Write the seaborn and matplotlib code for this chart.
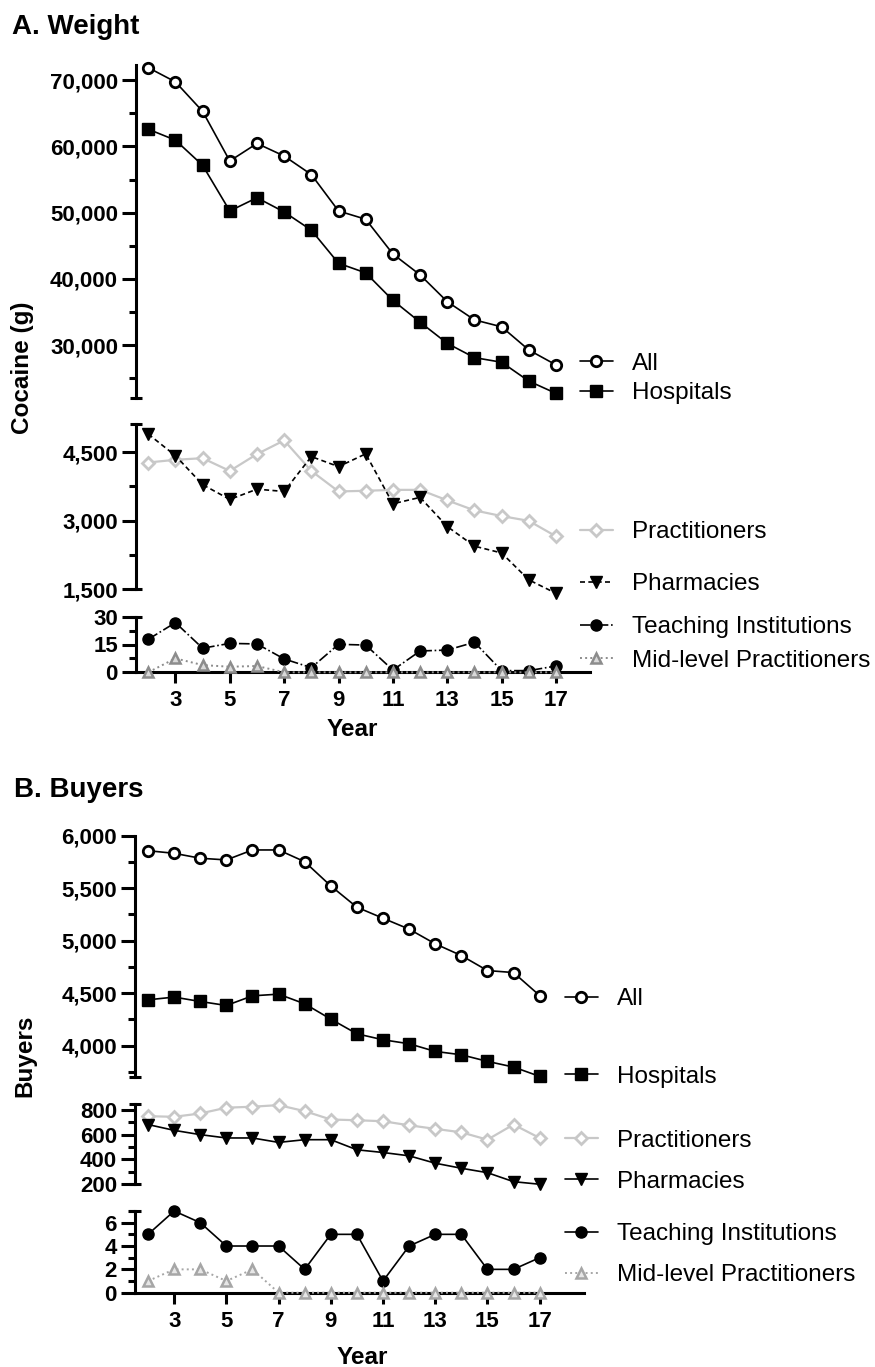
import matplotlib
matplotlib.use("Agg")
import matplotlib.pyplot as plt
import seaborn as sns
from matplotlib.ticker import MultipleLocator, FuncFormatter

# %%
# values
years = list(range(2, 18))
year_ticks = list(range(3, 18, 2))

# A. weight of cocaine (g)
w_all = [71900, 69750, 65300, 57800, 60450, 58550, 55750, 50250,
         49000, 43750, 40600, 36550, 33800, 32750, 29250, 27000]
w_hospitals = [62600, 60950, 57150, 50250, 52250, 50100, 47350, 42350,
               40900, 36750, 33450, 30250, 28100, 27400, 24550, 22700]
w_practitioners = [4275, 4335, 4370, 4090, 4460, 4760, 4090, 3640,
                   3655, 3675, 3675, 3445, 3225, 3100, 2995, 2655]
w_pharmacies = [4900, 4425, 3790, 3465, 3690, 3640, 4405, 4185,
                4465, 3370, 3510, 2870, 2440, 2290, 1700, 1405]
w_teaching = [17.8, 26.8, 13.0, 15.6, 15.3, 7.2, 2.5, 15.1,
              14.7, 1.2, 11.5, 12.0, 16.2, 0.9, 0.9, 3.4]
w_midlevel = [0, 7.5, 3.9, 3.0, 3.4, 0, 0, 0, 0, 0, 0, 0, 0, 0, 0, 0]

# B. number of buyers
b_all = [5858, 5833, 5786, 5770, 5865, 5865, 5753, 5522,
         5319, 5214, 5110, 4970, 4858, 4715, 4696, 4477]
b_hospitals = [4436, 4462, 4420, 4382, 4474, 4490, 4398, 4252,
               4112, 4055, 4017, 3944, 3912, 3849, 3795, 3706]
b_practitioners = [751, 746, 773, 820, 828, 841, 792, 724,
                   718, 710, 677, 648, 620, 560, 683, 574]
b_pharmacies = [683, 636, 601, 574, 574, 538, 560, 560,
                478, 456, 429, 369, 328, 292, 219, 198]
b_teaching = [5, 7, 6, 4, 4, 4, 2, 5, 5, 1, 4, 5, 5, 2, 2, 3]
b_midlevel = [1, 2, 2, 1, 2, 0, 0, 0, 0, 0, 0, 0, 0, 0, 0, 0]

# %%
sns.set_style("ticks")
plt.rcParams["font.family"] = ["Liberation Sans", "DejaVu Sans"]
plt.rcParams["font.weight"] = "bold"
for key in ["text.color", "axes.labelcolor", "xtick.color", "ytick.color", "axes.edgecolor"]:
    plt.rcParams[key] = "black"

W, H = 875, 1367
fig = plt.figure(figsize=(W / 100, H / 100), dpi=100)


def add_ax(left, right, top, bottom):
    return fig.add_axes([left / W, 1 - bottom / H, (right - left) / W, (bottom - top) / H])


def draw(ax, y, label, **style):
    sns.lineplot(x=years, y=y, ax=ax, label=label, clip_on=False, zorder=3, **style)


def cap(ax, yval, width_px):
    # short horizontal end bar on a broken y axis
    half = 6 / width_px
    ax.plot([-half, half], [yval, yval], transform=ax.get_yaxis_transform(),
            color="black", lw=2.2, clip_on=False, solid_capstyle="butt")


def style_ax(ax, ylim, major, minor, xlim, bottom=False, comma=True):
    ax.set_xlim(*xlim)
    ax.set_ylim(*ylim)
    ax.yaxis.set_major_locator(MultipleLocator(major))
    ax.yaxis.set_minor_locator(MultipleLocator(minor))
    if comma:
        ax.yaxis.set_major_formatter(FuncFormatter(lambda v, p: f"{v:,.0f}"))
    sns.despine(ax=ax, bottom=not bottom)
    for s in ax.spines.values():
        s.set_linewidth(2.2)
        s.set_color("black")
    ax.tick_params(axis="y", which="major", length=10, width=2.2, labelsize=16, pad=3,
                   color="black", labelcolor="black")
    ax.tick_params(axis="y", which="minor", length=5, width=2.2, color="black")
    if bottom:
        ax.set_xticks(year_ticks)
        ax.tick_params(axis="x", which="major", length=8, width=2.2, labelsize=16, pad=5,
                       color="black", labelcolor="black")
    else:
        ax.set_xticks([])
    ax.set_xlabel("")
    ax.set_ylabel("")
    ax.set_facecolor("none")


def legend(ax, x, y, spacing):
    ax.legend(loc="center left", bbox_to_anchor=(x / W, 1 - y / H),
              bbox_transform=fig.transFigure, frameon=False,
              prop={"size": 17.5, "weight": "normal"},
              handlelength=1.35, handletextpad=0.8, labelspacing=spacing,
              borderpad=0, borderaxespad=0, labelcolor="black")


all_style = dict(color="black", linewidth=1.2, marker="o", markersize=7.5,
                 markerfacecolor="white", markeredgecolor="black", markeredgewidth=2)
hosp_style = dict(color="black", linewidth=1.2, marker="s", markersize=8,
                  markerfacecolor="black", markeredgecolor="black", markeredgewidth=1)
prac_style = dict(color="#c8c8c8", linewidth=1.6, marker="D", markersize=6,
                  markerfacecolor="white", markeredgecolor="#c8c8c8", markeredgewidth=2)
teach_marker = dict(color="black", linewidth=1.2, marker="o", markersize=8,
                    markerfacecolor="black", markeredgecolor="black", markeredgewidth=1)
pharm_marker = dict(color="black", linewidth=1.2, marker="v", markersize=8,
                    markerfacecolor="black", markeredgecolor="black", markeredgewidth=1)

# %%
# A. Weight
xa = (1.55, 18.25)
a1 = add_ax(136, 590, 65, 398)
draw(a1, w_all, "All", **all_style)
draw(a1, w_hospitals, "Hospitals", **hosp_style)
style_ax(a1, (22000, 72300), 10000, 5000, xa)
cap(a1, 22000, 454)
legend(a1, 580, 378.5, 0.30)

a2 = add_ax(136, 590, 424, 589)
draw(a2, w_practitioners, "Practitioners", **prac_style)
draw(a2, w_pharmacies, "Pharmacies", linestyle=(0, (3, 2)), **pharm_marker)
style_ax(a2, (1500, 5120), 1500, 750, xa)
cap(a2, 5120, 454)
cap(a2, 1500, 454)
legend(a2, 580, 558.3, 1.22)

a3 = add_ax(136, 590, 616.7, 672.3)
draw(a3, w_teaching, "Teaching Institutions", linestyle="-.", **teach_marker)
draw(a3, w_midlevel, "Mid-level Practitioners", color="#8c8c8c", linewidth=1.4,
     linestyle=":", marker="^", markersize=6.5, markerfacecolor="#d9d9d9",
     markeredgecolor="#8c8c8c", markeredgewidth=1.8)
style_ax(a3, (0, 30), 15, 7.5, xa, bottom=True)
cap(a3, 30, 454)
legend(a3, 580, 644.2, 0.47)

fig.text(12 / W, 1 - 27 / H, "A. Weight", fontsize=20, fontweight="bold", va="center")
fig.text(23 / W, 1 - 368 / H, "Cocaine (g)", fontsize=17.5, fontweight="bold",
         rotation=90, va="center", ha="center")
fig.text(352 / W, 1 - 730 / H, "Year", fontsize=17.5, fontweight="bold",
         va="center", ha="center")

# %%
# B. Buyers
xb = (1.5, 18.7)
b1 = add_ax(135, 584, 835.8, 1077)
draw(b1, b_all, "All", **all_style)
draw(b1, b_hospitals, "Hospitals", **hosp_style)
style_ax(b1, (3700, 6000), 500, 250, xb)
cap(b1, 3700, 449)
legend(b1, 565, 1037.8, 2.28)

b2 = add_ax(135, 584, 1104, 1184)
draw(b2, b_practitioners, "Practitioners", **prac_style)
draw(b2, b_pharmacies, "Pharmacies", **pharm_marker)
style_ax(b2, (200, 850), 200, 100, xb)
cap(b2, 850, 449)
cap(b2, 200, 449)
legend(b2, 565, 1161.3, 0.78)

b3 = add_ax(135, 584, 1211, 1292.7)
draw(b3, b_teaching, "Teaching Institutions", **teach_marker)
draw(b3, b_midlevel, "Mid-level Practitioners", color="#a6a6a6", linewidth=1.4,
     linestyle=":", marker="^", markersize=6.5, markerfacecolor="#e6e6e6",
     markeredgecolor="#a6a6a6", markeredgewidth=1.8)
style_ax(b3, (0, 7), 2, 1, xb, bottom=True, comma=False)
cap(b3, 7, 449)
legend(b3, 565, 1254.7, 0.78)

fig.text(14 / W, 1 - 790 / H, "B. Buyers", fontsize=20, fontweight="bold", va="center")
fig.text(25 / W, 1 - 1056 / H, "Buyers", fontsize=17.5, fontweight="bold",
         rotation=90, va="center", ha="center")
fig.text(362 / W, 1 - 1357 / H, "Year", fontsize=17.5, fontweight="bold",
         va="center", ha="center")

fig.savefig("out.png", dpi=100, facecolor="white")
